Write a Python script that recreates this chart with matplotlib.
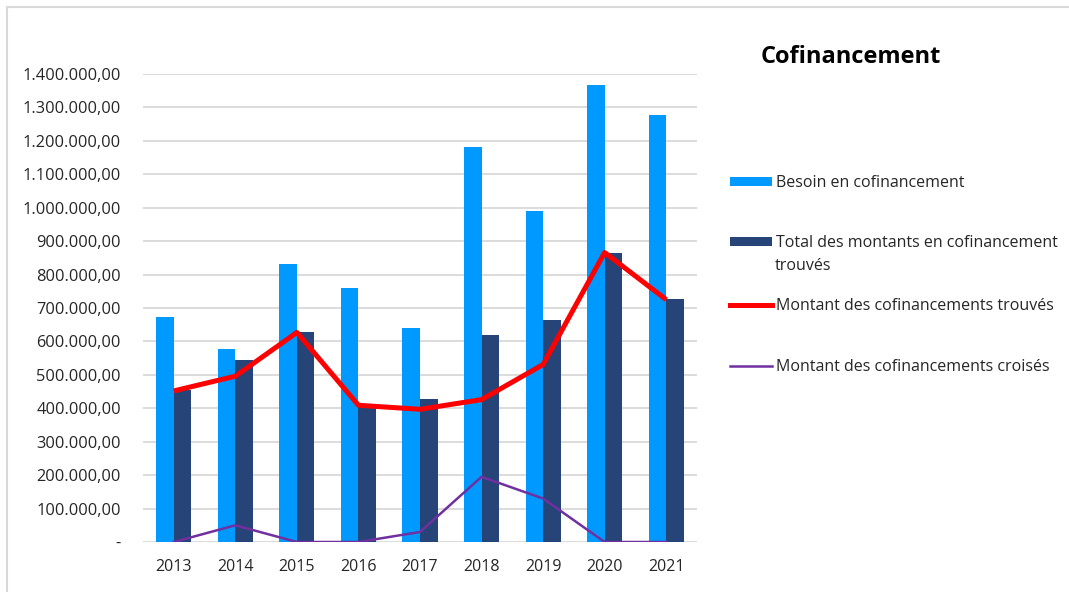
import numpy as np
import matplotlib.pyplot as plt
from matplotlib.lines import Line2D
from matplotlib.patches import Patch

years = ["2013", "2014", "2015", "2016", "2017", "2018", "2019", "2020", "2021"]
besoin = [672000, 576000, 833000, 761000, 641000, 1182000, 990000, 1367000, 1276000]
total_trouves = [454000, 544000, 627000, 404000, 428000, 618000, 663000, 866000, 726000]
montant_trouves = [452000, 496000, 627000, 409000, 397000, 426000, 531000, 866000, 725000]
montant_croises = [0, 50000, 0, 0, 30000, 195000, 130000, 0, 0]

labels = ["Besoin en cofinancement",
          "Total des montants en cofinancement",
          "Montant des cofinancements trouvés",
          "Montant des cofinancements croisés"]
label_suite = "trouvés"

c_light = "#0099FF"
c_dark = "#264478"
c_red = "#FF0000"
c_purple = "#7030A0"
c_text = "#262626"

plt.rcParams['font.family'] = ['Open Sans', 'DejaVu Sans']

fig = plt.figure(figsize=(10.69, 5.92), dpi=100)
ax = fig.add_axes([143 / 1069, 1 - 542 / 592, (697 - 143) / 1069, (542 - 74) / 592])

x = np.arange(len(years))
w = 0.285
ax.bar(x - w / 2, besoin, width=w, color=c_light, zorder=2)
ax.bar(x + w / 2, total_trouves, width=w, color=c_dark, zorder=2)
ax.plot(x, montant_trouves, color=c_red, linewidth=3.6, zorder=3, solid_capstyle='butt')
ax.plot(x, montant_croises, color=c_purple, linewidth=1.8, zorder=3)

ax.set_xlim(-0.5, len(years) - 0.5)
ax.set_ylim(0, 1400000)
ticks = np.arange(0, 1400001, 100000)
ax.set_yticks(ticks)


def fmt(v):
    if v == 0:
        return "-"
    s = f"{int(v):,}".replace(",", ".")
    return s + ",00"


ax.set_yticklabels([fmt(t) for t in ticks], fontsize=11.8, color=c_text)
ax.set_xticks(x)
ax.set_xticklabels(years, fontsize=11.5, color=c_text)
ax.tick_params(axis='both', length=0)
ax.tick_params(axis='y', pad=16)
ax.tick_params(axis='x', pad=12)
ax.grid(axis='y', color="#D9D9D9", linewidth=1.3, zorder=0)
for s in ax.spines.values():
    s.set_visible(False)

fig.text(851 / 1069, 1 - 57 / 592, "Cofinancement", fontsize=17, fontweight='bold',
         ha='center', va='center')

# legend: one entry at a time, Excel spaces them unevenly
handles = [Patch(facecolor=c_light), Patch(facecolor=c_dark),
           Line2D([], [], color=c_red, linewidth=3.6),
           Line2D([], [], color=c_purple, linewidth=1.8)]
entry_y = [183, 243, 306, 367]
for h, lab, yy in zip(handles, labels, entry_y):
    fig.legend([h], [lab], loc='center left', bbox_to_anchor=(722 / 1069, 1 - yy / 592),
               frameon=False, fontsize=11.5, handlelength=2.6, handleheight=0.55,
               handletextpad=0.25, borderpad=0, labelcolor=c_text)
fig.text(775 / 1069, 1 - 266 / 592, label_suite, fontsize=11.5, color=c_text,
         ha='left', va='center')

# chart border
fig.add_artist(Line2D([7 / 1069, 7 / 1069], [0, 1 - 7 / 592], transform=fig.transFigure,
                      color="#D9D9D9", linewidth=1.5))
fig.add_artist(Line2D([7 / 1069, 1], [1 - 7 / 592, 1 - 7 / 592], transform=fig.transFigure,
                      color="#D9D9D9", linewidth=1.5))

fig.savefig("out.png", dpi=100)
